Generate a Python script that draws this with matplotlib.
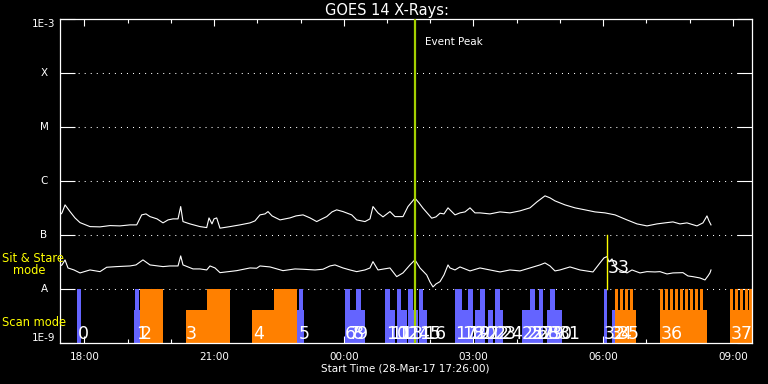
import matplotlib
matplotlib.use("Agg")
import matplotlib.pyplot as plt
import numpy as np
from matplotlib import font_manager
from matplotlib.ticker import FixedLocator, NullLocator

# ---------------- data ----------------
T_START = 17 + 26 / 60.0          # 28-Mar-17 17:26:00 (hours of day)
T_END = T_START + 16.0

# GOES long channel (1-8 A), time in hours since 28-Mar 00:00, log10 flux W/m^2
long_t = [17.433, 17.480, 17.550, 17.665, 17.780, 17.896, 18.127, 18.359, 18.590, 18.822,
          19.053, 19.208, 19.324, 19.423, 19.516, 19.678, 19.817, 19.933, 20.048, 20.164,
          20.226, 20.279, 20.441, 20.673, 20.828, 20.881, 20.950, 20.997, 21.059, 21.135,
          21.367, 21.598, 21.830, 21.945, 22.061, 22.177, 22.246, 22.339, 22.524, 22.755,
          22.894, 23.056, 23.218, 23.373, 23.495, 23.604, 23.727, 23.835, 23.981, 24.183,
          24.298, 24.490, 24.606, 24.675, 24.791, 24.907, 25.068, 25.184, 25.369, 25.485,
          25.647, 25.740, 25.832, 25.948, 26.034, 26.133, 26.226, 26.318, 26.411, 26.457,
          26.573, 26.688, 26.804, 26.920, 27.035, 27.151, 27.382, 27.614, 27.845, 28.076,
          28.308, 28.470, 28.655, 28.771, 28.886, 29.118, 29.349, 29.580, 29.812, 30.043,
          30.275, 30.552, 30.784, 31.015, 31.246, 31.431, 31.616, 31.778, 31.940, 32.171,
          32.310, 32.403, 32.449, 32.496]
long_log = [-6.624, -6.587, -6.439, -6.563, -6.680, -6.767, -6.841, -6.846, -6.822, -6.828,
            -6.809, -6.809, -6.624, -6.606, -6.656, -6.698, -6.772, -6.717, -6.698, -6.698,
            -6.470, -6.748, -6.791, -6.841, -6.859, -6.680, -6.791, -6.698, -6.680, -6.870,
            -6.841, -6.809, -6.772, -6.735, -6.624, -6.606, -6.563, -6.643, -6.717, -6.680,
            -6.643, -6.624, -6.680, -6.748, -6.698, -6.656, -6.569, -6.531, -6.563, -6.624,
            -6.717, -6.748, -6.698, -6.470, -6.587, -6.661, -6.563, -6.656, -6.656, -6.470,
            -6.315, -6.402, -6.500, -6.606, -6.685, -6.661, -6.593, -6.606, -6.494, -6.531,
            -6.624, -6.587, -6.569, -6.494, -6.587, -6.587, -6.606, -6.569, -6.587, -6.550,
            -6.494, -6.383, -6.272, -6.309, -6.365, -6.439, -6.494, -6.531, -6.569, -6.587,
            -6.624, -6.717, -6.791, -6.828, -6.791, -6.772, -6.754, -6.791, -6.772, -6.828,
            -6.772, -6.643, -6.735, -6.809]

# GOES short channel (0.5-4 A)
short_t = [17.433, 17.480, 17.550, 17.618, 17.757, 17.896, 18.127, 18.359, 18.514, 18.745,
           19.053, 19.191, 19.353, 19.516, 19.817, 19.978, 20.164, 20.226, 20.279, 20.511,
           20.673, 20.828, 20.904, 21.020, 21.135, 21.522, 21.830, 21.984, 22.061, 22.292,
           22.593, 22.871, 23.056, 23.333, 23.518, 23.680, 23.796, 23.981, 24.143, 24.298,
           24.490, 24.606, 24.675, 24.791, 25.068, 25.224, 25.369, 25.531, 25.647, 25.763,
           25.918, 25.994, 26.064, 26.133, 26.226, 26.318, 26.411, 26.457, 26.573, 26.688,
           26.920, 27.151, 27.382, 27.614, 27.845, 28.076, 28.308, 28.539, 28.655, 28.771,
           28.886, 29.002, 29.233, 29.465, 29.765, 29.927, 30.020, 30.090, 30.136, 30.206,
           30.275, 30.390, 30.552, 30.668, 30.853, 31.015, 31.200, 31.316, 31.478, 31.616,
           31.847, 31.963, 32.079, 32.241, 32.357, 32.426, 32.472, 32.496]
short_log = [-7.569, -7.550, -7.457, -7.606, -7.643, -7.698, -7.643, -7.674, -7.593, -7.581,
             -7.569, -7.550, -7.457, -7.550, -7.581, -7.569, -7.569, -7.383, -7.550, -7.624,
             -7.624, -7.643, -7.569, -7.606, -7.693, -7.656, -7.606, -7.611, -7.569, -7.587,
             -7.656, -7.624, -7.630, -7.643, -7.630, -7.569, -7.550, -7.606, -7.643, -7.674,
             -7.643, -7.606, -7.489, -7.643, -7.606, -7.767, -7.698, -7.550, -7.457, -7.606,
             -7.735, -7.865, -7.957, -7.902, -7.859, -7.735, -7.550, -7.606, -7.643, -7.587,
             -7.661, -7.606, -7.643, -7.680, -7.643, -7.661, -7.606, -7.550, -7.513, -7.569,
             -7.661, -7.643, -7.587, -7.643, -7.680, -7.513, -7.420, -7.396, -7.494, -7.439,
             -7.581, -7.643, -7.698, -7.643, -7.698, -7.674, -7.680, -7.674, -7.717, -7.698,
             -7.693, -7.754, -7.767, -7.791, -7.828, -7.754, -7.698, -7.643]

FULL, HALF = 1e-8, 4.1e-9
# sit & stare observations (blue)
blue_start = [17.827, 19.145, 19.169, 22.924, 22.963, 24.027, 24.027, 24.219, 24.282, 24.953,
              25.068, 25.224, 25.323, 25.492, 25.608, 25.740, 25.839, 26.573, 26.727, 26.880,
              27.035, 27.151, 27.336, 27.498, 27.614, 28.123, 28.308, 28.423, 28.516, 28.694,
              28.771, 28.887, 30.020, 30.205]
blue_end = [17.919, 19.284, 19.254, 23.079, 23.049, 24.219, 24.142, 24.490, 24.391, 25.068,
            25.184, 25.323, 25.455, 25.608, 25.717, 25.839, 25.925, 26.727, 26.880, 26.996,
            27.151, 27.267, 27.452, 27.614, 27.683, 28.308, 28.423, 28.516, 28.615, 28.771,
            28.887, 29.041, 30.083, 30.275]
blue_top = [FULL, HALF, FULL, HALF, FULL, HALF, FULL, HALF, FULL, FULL,
            HALF, FULL, HALF, FULL, HALF, FULL, HALF, FULL, HALF, FULL,
            HALF, FULL, HALF, FULL, HALF, HALF, FULL, HALF, FULL, HALF,
            FULL, HALF, FULL, HALF]
# scan observations (orange)
orange_start = [19.284, 20.349, 20.841, 21.883, 22.385, 30.275, 31.316, 32.936]
orange_end = [19.810, 20.841, 21.367, 22.385, 22.910, 30.761, 32.396, 33.438]
orange_top = [FULL, HALF, FULL, HALF, FULL, HALF, HALF, HALF]
spike_start = [30.275, 30.391, 30.506, 30.622, 31.316, 31.432, 31.547, 31.663, 31.779,
               31.895, 32.010, 32.126, 32.242, 32.936, 33.052, 33.167, 33.283, 33.387]
SPIKE_W = 0.062

obs_labels = [str(i) for i in range(38)]
obs_label_t = [17.850, 19.192, 19.307, 20.349, 21.899, 22.963, 24.027, 24.120, 24.212, 24.305,
               24.976, 25.068, 25.230, 25.323, 25.485, 25.740, 25.855, 26.573, 26.734, 26.873,
               27.035, 27.151, 27.336, 27.498, 27.660, 28.123, 28.239, 28.354, 28.493, 28.609,
               28.794, 28.979, 30.020, 30.113, 30.182, 30.344, 31.339, 32.959]
RAISED_LABEL = 33
raised_label_log = -7.60

event_peak_t = 25.647
marker_t = 30.090

y_ticks = [1e-9, 1e-8, 1e-7, 1e-6, 1e-5, 1e-4, 1e-3]
y_labels = ["1E-9", "A", "B", "C", "M", "X", "1E-3"]
x_ticks = [18, 21, 24, 27, 30, 33]
x_labels = ["18:00", "21:00", "00:00", "03:00", "06:00", "09:00"]
x_minor = list(range(18, 34))

BLUE = "#6464ff"
ORANGE = "#ff8000"
GREEN = "#a4d000"
YEL = "#ffff00"

# ---------------- plot ----------------
names = {f.name for f in font_manager.fontManager.ttflist}
narrow = next((n for n in ["DejaVu Sans Condensed", "Liberation Sans Narrow"] if n in names),
              "DejaVu Sans")

W, H = 768, 384
fig = plt.figure(figsize=(W / 100, H / 100), dpi=100, facecolor="black")
ax = fig.add_axes([60 / W, 1 - 343.3 / H, 691.5 / W, 324.3 / H], facecolor="black")
ax.set_yscale("log")
ax.set_xlim(T_START, T_END)
ax.set_ylim(1e-9, 1e-3)

for v in y_ticks[1:-1]:
    ax.axhline(v, color="white", lw=0.75, linestyle=(0, (1, 4.8)), zorder=1)

bs = np.array(blue_start); be = np.array(blue_end)
ax.bar(bs, np.array(blue_top) - 1e-9, width=be - bs, bottom=1e-9, align="edge",
       color=BLUE, linewidth=0, zorder=2)
os_ = np.array(orange_start); oe = np.array(orange_end)
ax.bar(os_, np.array(orange_top) - 1e-9, width=oe - os_, bottom=1e-9, align="edge",
       color=ORANGE, linewidth=0, zorder=2)
ax.bar(spike_start, FULL - 1e-9, width=SPIKE_W, bottom=1e-9, align="edge",
       color=ORANGE, linewidth=0, zorder=2)

ax.plot(long_t, 10 ** np.array(long_log), color="white", lw=0.8, zorder=3)
ax.plot(short_t, 10 ** np.array(short_log), color="white", lw=0.8, zorder=3)

ax.axvline(event_peak_t, color=GREEN, lw=1.6, zorder=4)
ax.plot([marker_t, marker_t], [1e-8, 1e-7], color=YEL, lw=1.0, zorder=4)
ax.text(event_peak_t + 0.24, 10 ** -3.43, "Event Peak", color="white", fontsize=7.5,
        ha="left", va="center")

for lab, t in zip(obs_labels, obs_label_t):
    if int(lab) == RAISED_LABEL:
        ax.text(t, 10 ** raised_label_log, lab, color="white", fontsize=12.5,
                family=narrow, ha="left", va="center", zorder=5)
    else:
        ax.text(t, 1.02e-9, lab, color="white", fontsize=12.5, family=narrow,
                ha="left", va="bottom", zorder=5)

# axes styling
for s in ax.spines.values():
    s.set_color("white")
    s.set_linewidth(0.9)
ax.yaxis.set_major_locator(FixedLocator(y_ticks))
ax.yaxis.set_minor_locator(NullLocator())
ax.tick_params(axis="y", which="major", direction="in", length=10.8, width=0.8,
               color="white", left=True, right=True, labelleft=False)
ax.xaxis.set_major_locator(FixedLocator(x_ticks))
ax.xaxis.set_minor_locator(FixedLocator(x_minor))
ax.set_xticklabels(x_labels)
ax.tick_params(axis="x", which="major", direction="in", length=5, width=0.8,
               color="white", top=True, bottom=True, labelcolor="white",
               labelsize=7.5, pad=6)
ax.tick_params(axis="x", which="minor", direction="in", length=3, width=0.8,
               color="white", top=True, bottom=True)

ytr = ax.get_yaxis_transform()
xc = (44 - 60) / 691.5
for v, lab in zip(y_ticks, y_labels):
    va = "center"
    if v == y_ticks[-1]:
        va = "top"
    elif v == y_ticks[0]:
        va = "bottom"
    ax.text(xc, v, lab, transform=ytr, color="white", fontsize=7.5, ha="center", va=va,
            clip_on=False)

fig.text(387 / W, 1 - 10 / H, "GOES 14 X-Rays:", color="white", fontsize=10.5,
         ha="center", va="center")
fig.text(405 / W, 1 - 368.5 / H, "Start Time (28-Mar-17 17:26:00)", color="white",
         fontsize=7.5, ha="center", va="center")
fig.text(2 / W, 1 - 259 / H, "Sit & Stare", color=YEL, fontsize=8.3, ha="left", va="center")
fig.text(13 / W, 1 - 271 / H, "mode", color=YEL, fontsize=8.3, ha="left", va="center")
fig.text(2 / W, 1 - 323 / H, "Scan mode", color=YEL, fontsize=8.3, ha="left", va="center")

fig.savefig("out.png", dpi=100, facecolor="black")
